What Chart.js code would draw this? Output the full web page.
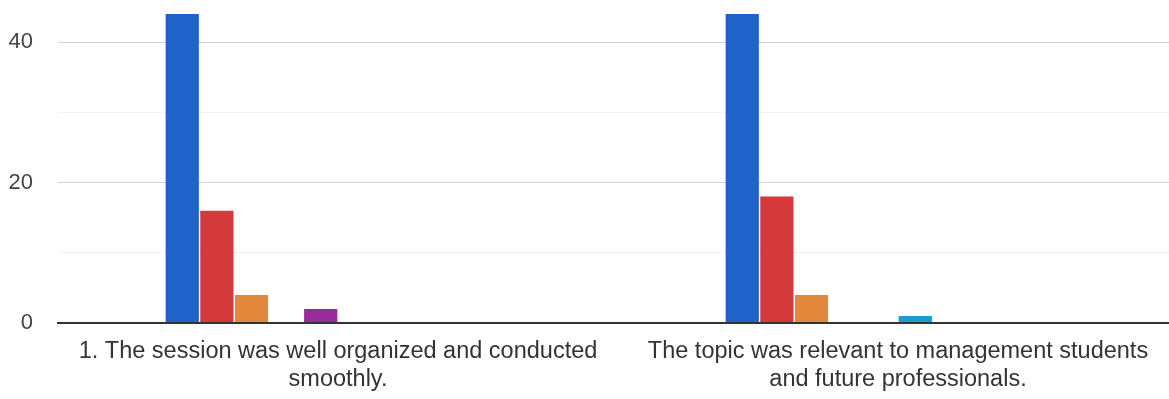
<!DOCTYPE html>
<html lang="en">
<head>
    <meta charset="UTF-8">
    <title>Session Feedback</title>
    <script src="https://cdn.jsdelivr.net/npm/chart.js"></script>
    <style>
        html, body { margin: 0; padding: 0; background: #fff; overflow: hidden; }
        .wrap { width: 1190px; height: 399px; }
    </style>
</head>
<body>
    <div class="wrap">
        <canvas id="barChart" width="1190" height="399"></canvas>
    </div>

    <script>
        // categories (grid rows)
        const categories = [
            ['1. The session was well organized and conducted', 'smoothly.'],
            ['The topic was relevant to management students', 'and future professionals.']
        ];

        // response columns, one series each
        const seriesNames = ['Column 1', 'Column 2', 'Column 3', 'Column 4', 'Column 5',
                             'Column 6', 'Column 7', 'Column 8', 'Column 9', 'Column 10'];
        const seriesColors = ['#1f62c9', '#d43a3c', '#e2893c', '#2e9a3e', '#992c99',
                              '#1a9bd2', '#dd4477', '#66aa00', '#b82e2e', '#316395'];

        // counts per column, [row 1, row 2]
        const col1 = [44, 44];
        const col2 = [16, 18];
        const col3 = [4, 4];
        const col4 = [0, 0];
        const col5 = [2, 0];
        const col6 = [0, 1];
        const col7 = [0, 0];
        const col8 = [0, 0];
        const col9 = [0, 0];
        const col10 = [0, 0];
        const seriesValues = [col1, col2, col3, col4, col5, col6, col7, col8, col9, col10];

        const yTicks = [0, 10, 20, 30, 40];
        const yLabelled = [0, 20, 40];

        const datasets = seriesNames.map((name, i) => ({
            label: name,
            data: seriesValues[i],
            backgroundColor: seriesColors[i],
            borderWidth: 0,
            barPercentage: 0.96,
            categoryPercentage: 0.618
        }));

        const ctx = document.getElementById('barChart').getContext('2d');
        new Chart(ctx, {
            type: 'bar',
            data: { labels: categories, datasets: datasets },
            options: {
                responsive: false,
                animation: false,
                layout: { padding: { top: 0, right: 12, bottom: 0, left: 0 } },
                plugins: {
                    legend: { display: false },
                    tooltip: { enabled: false }
                },
                scales: {
                    x: {
                        grid: { display: false, drawTicks: false },
                        border: { display: true, color: '#333', width: 2 },
                        ticks: {
                            color: '#333',
                            padding: 15,
                            maxRotation: 0,
                            autoSkip: false,
                            font: { family: '"Liberation Sans", Arial, sans-serif', size: 23.5, lineHeight: 1.19 }
                        },
                        afterFit: function(scale) {
                            scale.height = 76;
                            scale.paddingTop = 0;
                            scale.paddingBottom = 0;
                        }
                    },
                    y: {
                        min: 0,
                        max: 46,
                        border: { display: false },
                        grid: {
                            drawTicks: false,
                            color: function(c) {
                                if (c.tick.value === 0) return '#333';
                                return yLabelled.includes(c.tick.value) ? '#d4d4d8' : '#f0f0f2';
                            },
                            lineWidth: function(c) { return c.tick.value === 0 ? 2 : 1; }
                        },
                        ticks: {
                            color: '#444',
                            padding: 25,
                            font: { family: '"Liberation Sans", Arial, sans-serif', size: 22 },
                            callback: function(value) {
                                return yLabelled.includes(value) ? value : '';
                            }
                        },
                        afterBuildTicks: function(scale) {
                            scale.ticks = yTicks.map(v => ({ value: v }));
                        },
                        afterFit: function(scale) {
                            scale.width = 58;
                            scale.paddingTop = 0;
                            scale.paddingBottom = 0;
                        }
                    }
                }
            }
        });
    </script>
</body>
</html>
